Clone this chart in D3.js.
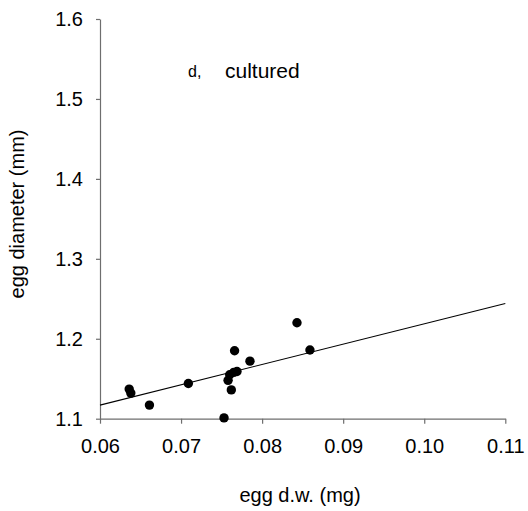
<!DOCTYPE html>
<html>
<head>
<meta charset="utf-8">
<script src="https://cdn.jsdelivr.net/npm/d3@7"></script>
<style>
  body { margin: 0; background: #fff; }
  svg text { font-family: "Liberation Sans", Arial, sans-serif; fill: #000; }
</style>
</head>
<body>
<svg id="chart" width="528" height="511"></svg>
<script>
// egg dry weight (mg) vs egg diameter (mm), cultured
const eggDw = [0.0636, 0.0638, 0.0661, 0.0709, 0.0753, 0.0758, 0.0762, 0.0760,
               0.0765, 0.0769, 0.0766, 0.0785, 0.0843, 0.0859];
const eggDiam = [1.137, 1.132, 1.117, 1.144, 1.101, 1.148, 1.136, 1.155,
                 1.158, 1.159, 1.185, 1.172, 1.220, 1.186];
// fitted line, read at both ends of the x range
const fitX = [0.06, 0.11];
const fitY = [1.117, 1.244];
const xTicks = [0.06, 0.07, 0.08, 0.09, 0.10, 0.11];
const yTicks = [1.1, 1.2, 1.3, 1.4, 1.5, 1.6];

const svg = d3.select('#chart');
const x = d3.scaleLinear().domain([0.06, 0.11]).range([100, 505.3]);
const y = d3.scaleLinear().domain([1.1, 1.6]).range([418.7, 19]);
const axisColor = '#6e6e6e';

// x axis
const gx = svg.append('g').attr('transform', `translate(0,${y(1.1)})`)
  .call(d3.axisBottom(x).tickValues(xTicks).tickFormat(d3.format('.2f'))
    .tickSizeInner(5).tickSizeOuter(0).tickPadding(15));
// y axis
const gy = svg.append('g').attr('transform', `translate(${x(0.06)},0)`)
  .call(d3.axisLeft(y).tickValues(yTicks).tickFormat(d3.format('.1f'))
    .tickSizeInner(4).tickSizeOuter(0).tickPadding(13));

[gx, gy].forEach(g => {
  g.select('.domain').attr('stroke', axisColor).attr('stroke-width', 1.2);
  g.selectAll('.tick line').attr('stroke', axisColor).attr('stroke-width', 1.2);
  g.selectAll('.tick text').attr('font-size', 20).attr('fill', '#000')
    .style('font-family', '"Liberation Sans", Arial, sans-serif');
});

// regression line
svg.append('line')
  .attr('x1', x(fitX[0])).attr('y1', y(fitY[0]))
  .attr('x2', x(fitX[1])).attr('y2', y(fitY[1]))
  .attr('stroke', '#000').attr('stroke-width', 1.1);

// points
svg.append('g').selectAll('circle')
  .data(eggDw.map((d, i) => [d, eggDiam[i]]))
  .join('circle')
  .attr('cx', d => x(d[0]))
  .attr('cy', d => y(d[1]))
  .attr('r', 4.7)
  .attr('fill', '#000');

// titles
svg.append('text').attr('x', 300).attr('y', 502)
  .attr('text-anchor', 'middle').attr('font-size', 20).text('egg d.w. (mg)');
svg.append('text').attr('transform', 'translate(24,214) rotate(-90)')
  .attr('text-anchor', 'middle').attr('font-size', 20).text('egg diameter (mm)');

// panel label
svg.append('text').attr('x', 188).attr('y', 77).attr('font-size', 16).text('d,');
svg.append('text').attr('x', 225).attr('y', 78).attr('font-size', 21).text('cultured');
</script>
</body>
</html>
